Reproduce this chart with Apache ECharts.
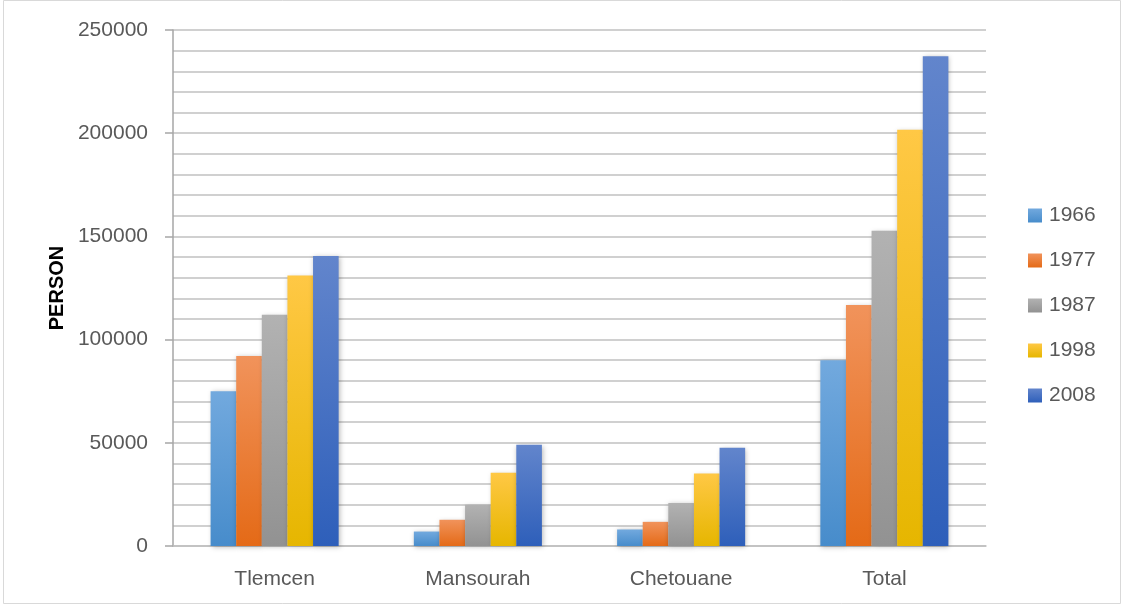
<!DOCTYPE html>
<html>
<head>
<meta charset="utf-8">
<script src="https://cdn.jsdelivr.net/npm/echarts@6/dist/echarts.min.js"></script>
<style>
  html, body { margin: 0; padding: 0; background: #ffffff; }
  #chart { width: 1123px; height: 606px; }
</style>
</head>
<body>
<div id="chart"></div>
<script>
// Population by commune and census year
const categories = ['Tlemcen', 'Mansourah', 'Chetouane', 'Total'];
const years = ['1966', '1977', '1987', '1998', '2008'];
const pop1966 = [75000, 7000, 8000, 90000];
const pop1977 = [92000, 12700, 11700, 116800];
const pop1987 = [112000, 20000, 20800, 152700];
const pop1998 = [131000, 35500, 35100, 201700];
const pop2008 = [140500, 49100, 47600, 237300];
const seriesValues = [pop1966, pop1977, pop1987, pop1998, pop2008];

// top / bottom shades of each year's fill
const shades = [
  ['#72a9de', '#478ccb'],
  ['#f1935b', '#e46a17'],
  ['#b2b2b2', '#929292'],
  ['#ffc845', '#e6b600'],
  ['#6285cc', '#2e5fba']
];

const textColor = '#595959';
const font = 'Liberation Sans, Arial, sans-serif';

const chart = echarts.init(document.getElementById('chart'), null, { renderer: 'canvas' });

const series = years.map((y, i) => ({
  name: y,
  type: 'bar',
  data: seriesValues[i],
  barGap: '0%',
  barCategoryGap: '37%',
  itemStyle: {
    color: new echarts.graphic.LinearGradient(0, 0, 0, 1, [
      { offset: 0, color: shades[i][0] },
      { offset: 1, color: shades[i][1] }
    ]),
    shadowBlur: 5,
    shadowColor: 'rgba(0,0,0,0.28)',
    shadowOffsetX: 1,
    shadowOffsetY: 1
  }
}));

chart.setOption({
  animation: false,
  backgroundColor: '#ffffff',
  graphic: [{
    type: 'rect',
    shape: { x: 3.5, y: 0.5, width: 1117, height: 603 },
    style: { fill: 'none', stroke: '#d9d9d9', lineWidth: 1 },
    silent: true
  }],
  grid: { left: 173, right: 137, top: 30, bottom: 60 },
  legend: {
    orient: 'vertical',
    left: 1023,
    top: 200,
    itemWidth: 14,
    itemHeight: 14,
    itemGap: 24,
    icon: 'rect',
    textStyle: { color: textColor, fontSize: 21, fontFamily: font, lineHeight: 20, padding: [0, 0, 0, 2] },
    data: years
  },
  xAxis: {
    type: 'category',
    data: categories,
    axisLine: { show: true, lineStyle: { color: '#bfbfbf', width: 1.5 } },
    axisTick: { show: false },
    axisLabel: { color: textColor, fontSize: 21, fontFamily: font, margin: 23 }
  },
  yAxis: {
    type: 'value',
    min: 0,
    max: 250000,
    interval: 50000,
    name: 'PERSON',
    nameLocation: 'middle',
    nameGap: 106,
    nameTextStyle: { color: '#000000', fontSize: 20, fontWeight: 'bold', fontFamily: font },
    axisLine: { show: true, lineStyle: { color: '#a6a6a6', width: 1.5 } },
    axisTick: { show: true, length: 8, lineStyle: { color: '#a6a6a6', width: 1.5 } },
    axisLabel: { color: textColor, fontSize: 21, fontFamily: font, margin: 25, formatter: v => String(v) },
    splitLine: { show: true, lineStyle: { color: '#d0d0d0', width: 2 } },
    minorTick: { show: false, splitNumber: 5 },
    minorSplitLine: { show: true, lineStyle: { color: '#d0d0d0', width: 2 } }
  },
  series: series
});
</script>
</body>
</html>
